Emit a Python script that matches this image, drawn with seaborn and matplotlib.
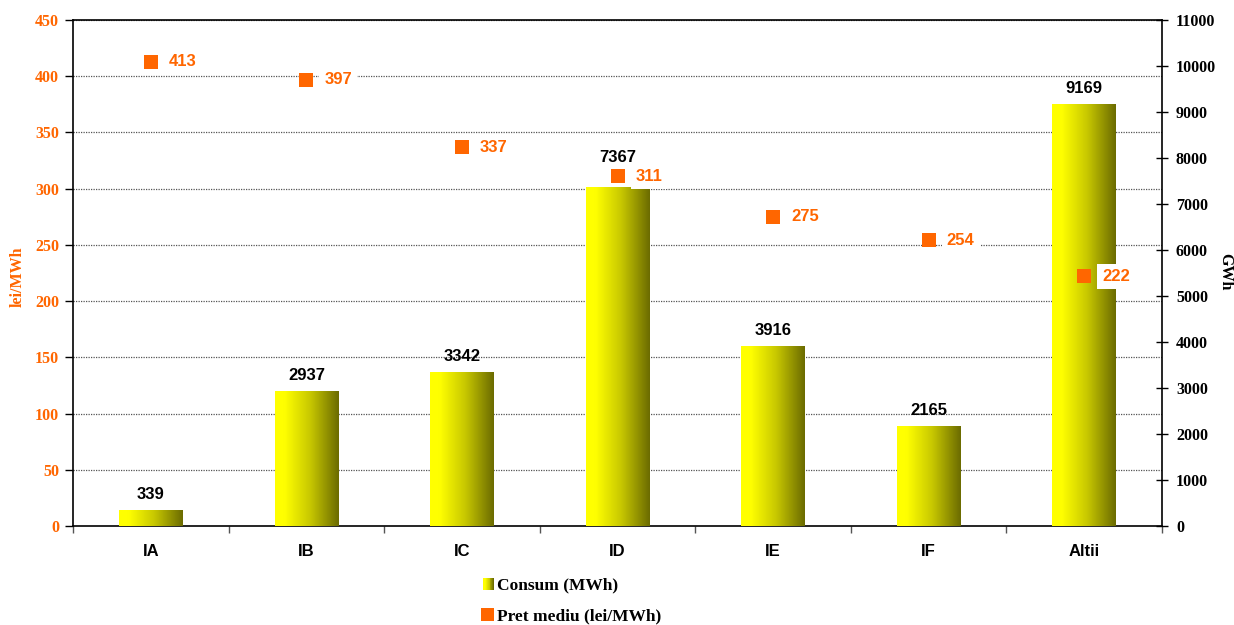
import numpy as np
import pandas as pd
import matplotlib
matplotlib.use("Agg")
import matplotlib.pyplot as plt
import seaborn as sns
from matplotlib.colors import LinearSegmentedColormap
from matplotlib.patches import Rectangle
from matplotlib.legend_handler import HandlerBase
from matplotlib.lines import Line2D

# Consumers by category: consumption (right axis) and average price (left axis)
categories = ["IA", "IB", "IC", "ID", "IE", "IF", "Altii"]
consum = [339, 2937, 3342, 7367, 3916, 2165, 9169]
pret = [413, 397, 337, 311, 275, 254, 222]
left_ticks = [0, 50, 100, 150, 200, 250, 300, 350, 400, 450]
right_ticks = [0, 1000, 2000, 3000, 4000, 5000, 6000, 7000, 8000, 9000, 10000, 11000]

ORANGE = "#FF6600"
SERIF = ["Liberation Serif", "DejaVu Serif"]
SANS = ["Liberation Sans", "DejaVu Sans"]

sns.set_theme(style="white")
plt.rcParams["font.family"] = SANS
plt.rcParams["text.color"] = "black"
plt.rcParams["axes.labelcolor"] = "black"
plt.rcParams["xtick.color"] = "black"
plt.rcParams["ytick.color"] = "black"

serif_tick = dict(family=SERIF, weight="bold", size=11.5)
sans_big = dict(family=SANS, weight="bold", size=12)

df = pd.DataFrame({"cat": categories, "consum": consum, "pret": pret})
grad = LinearSegmentedColormap.from_list(
    "yel", [(0.0, "#FFFF00"), (0.15, "#FFFF00"), (0.55, "#C8C800"), (1.0, "#6B6B00")])

fig = plt.figure(figsize=(12.34, 6.25), dpi=100)
ax = fig.add_axes([0.0592, 0.1584, 0.8825, 0.8096])
ax2 = ax.twinx()
ax3 = ax.twinx()
ax.set_zorder(1)
ax2.set_zorder(2)
ax3.set_zorder(3)
for a in (ax2, ax3):
    a.patch.set_visible(False)

# gridlines on the price axis
ax.set_ylim(0, 450)
for v in left_ticks[1:]:
    ax.axhline(v, color="#555555", lw=0.9, ls=(0, (1, 1)), zorder=0)

# consumption bars with a horizontal yellow-olive gradient
sns.barplot(data=df, x="cat", y="consum", ax=ax2, width=0.41, color="#FFFF00")
gimg = np.linspace(0, 1, 256).reshape(1, -1)
for p in list(ax2.patches):
    x0, y0 = p.get_x(), p.get_y()
    w, h = p.get_width(), p.get_height()
    im = ax2.imshow(gimg, cmap=grad, aspect="auto", extent=(x0, x0 + w, y0, y0 + h),
                    zorder=2, interpolation="bicubic")
    im.set_clip_path(p)
    p.set_facecolor("none")
    p.set_edgecolor("none")
ax2.set_ylim(0, 11000)
ax2.set_xlim(-0.5, len(categories) - 0.5)
# the ID label is lifted clear of the price marker sitting on that bar
lift = {"ID": 10}
for i, v in enumerate(consum):
    ax2.annotate(f"{v}", (i, v), xytext=(0, 6 + lift.get(categories[i], 0)),
                 textcoords="offset points", ha="center", va="bottom",
                 color="black", zorder=5, **sans_big)

# average price markers
sns.scatterplot(data=df, x="cat", y="pret", ax=ax3, marker="s", s=110,
                color=ORANGE, edgecolor=ORANGE, linewidth=0, zorder=4)
ax3.set_ylim(0, 450)
ax3.set_xlim(-0.5, len(categories) - 0.5)
for i, v in enumerate(pret):
    ax3.annotate(f"{v}", (i, v), xytext=(13, 0), textcoords="offset points",
                 ha="left", va="center", color=ORANGE, zorder=6,
                 bbox=dict(boxstyle="square,pad=0.3", fc="white", ec="none"), **sans_big)

# axes styling
ax3.set_yticks([])
ax3.set_ylabel("")
ax3.set_xlabel("")
ax3.tick_params(axis="x", which="both", length=0, labelbottom=False)
for s in ax3.spines.values():
    s.set_visible(False)
for s in ax2.spines.values():
    s.set_visible(False)
for s in ax.spines.values():
    s.set_color("black")
    s.set_linewidth(1.2)

ax.set_xlim(-0.5, len(categories) - 0.5)
ax.set_xticks(range(len(categories)))
ax.set_xticklabels(categories, fontdict=sans_big)
ax.set_xticks(np.arange(-0.5, len(categories) - 0.5 + 1e-9, 1.0), minor=True)
ax.tick_params(axis="x", which="major", length=0, pad=13, labelcolor="black")
ax.tick_params(axis="x", which="minor", length=5, width=1, color="#555555", direction="out", bottom=True)
ax.set_yticks(left_ticks)
ax.set_yticklabels([str(v) for v in left_ticks], fontdict=serif_tick)
ax.tick_params(axis="y", which="major", length=6, width=1, color="black", direction="out",
               left=True, labelcolor=ORANGE, pad=4)
ax.set_ylabel("")

ax2.set_yticks(right_ticks)
ax2.set_yticklabels([str(v) for v in right_ticks], fontdict=serif_tick)
ax2.tick_params(axis="y", which="major", length=8, width=1, color="black", direction="inout",
                right=True, labelcolor="black", pad=6)
ax2.tick_params(axis="x", which="both", length=0, labelbottom=False)
ax2.set_xlabel("")
ax2.set_ylabel("")
ax.spines["right"].set_visible(True)

# axis titles
fig.text(18 / 1234, 1 - 277 / 625, "lei/MWh", rotation=90, ha="center", va="center",
         color=ORANGE, fontsize=11.5, fontweight="bold", family=SERIF)
fig.text(1225 / 1234, 1 - 272 / 625, "GWh", rotation=-90, ha="center", va="center",
         color="black", fontsize=11.5, fontweight="bold", family=SERIF)


# legend with a gradient swatch for the bars
class GradientHandler(HandlerBase):
    def create_artists(self, legend, orig_handle, xdescent, ydescent, width, height,
                       fontsize, trans):
        n = 12
        side = height * 0.95
        arts = []
        x_start = -xdescent + width - side
        for k in range(n):
            arts.append(Rectangle((x_start + k * side / n, -ydescent), side / n + 0.05, side,
                                  facecolor=grad(k / (n - 1)), edgecolor="none",
                                  transform=trans))
        return arts


class SquareHandler(HandlerBase):
    def create_artists(self, legend, orig_handle, xdescent, ydescent, width, height,
                       fontsize, trans):
        side = height * 1.1
        return [Rectangle((-xdescent + width - side, -ydescent - 0.05 * height), side, side,
                          facecolor=ORANGE, edgecolor="none", transform=trans)]


h_bar = Rectangle((0, 0), 1, 1)
h_pt = Line2D([], [])
fig.legend([h_bar, h_pt], ["Consum (MWh)", "Pret mediu (lei/MWh)"],
           handler_map={Rectangle: GradientHandler(), Line2D: SquareHandler()},
           loc="upper left", bbox_to_anchor=(0.383, 0.087), frameon=False,
           handlelength=0.85, handletextpad=0.15, labelspacing=0.85, borderaxespad=0,
           prop=dict(family=SERIF, weight="bold", size=12.5))

fig.savefig("out.png", dpi=100)
